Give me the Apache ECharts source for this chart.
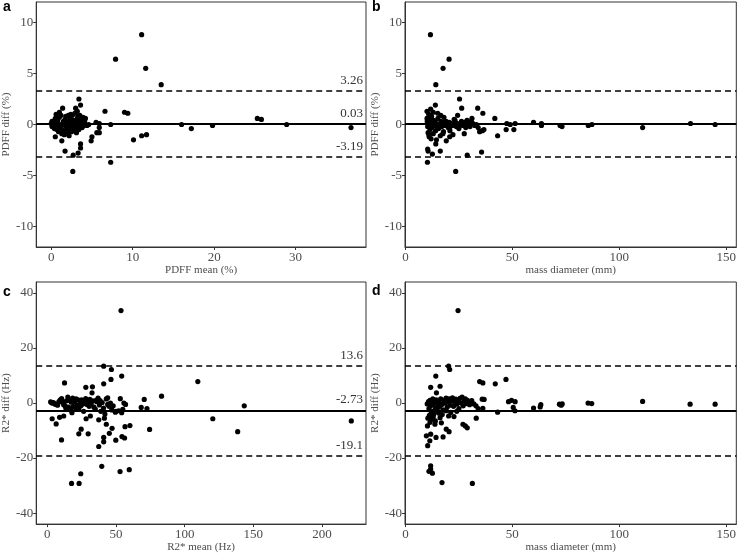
<!DOCTYPE html>
<html>
<head>
<meta charset="utf-8">
<script src="https://cdn.jsdelivr.net/npm/echarts@6/dist/echarts.min.js"></script>
<style>
html,body{margin:0;padding:0;background:#fff;}
#chart{width:739px;height:554px;}
</style>
</head>
<body>
<div id="chart"></div>
<script>
// ---------- DATA ----------
// Panel a: PDFF mean (%) vs PDFF diff (%)
var pdffMeanDiff = [
  [11.1,8.8],[7.9,6.4],[11.6,5.5],[13.5,3.9],[6.6,1.3],[9.0,1.2],[9.4,1.1],[7.3,0.0],[16.0,0.0],[17.2,-0.4],
  [19.8,-0.1],[25.3,0.6],[25.8,0.5],[28.9,0.0],[36.8,-0.3],[11.1,-1.1],[11.7,-1.0],[10.1,-1.5],[7.3,-3.7],[2.65,-4.6],
  [2.7,-3.0],[3.3,-2.8],[3.6,-2.3],[3.6,-1.9],[1.7,-2.6],[3.4,2.5],[3.6,1.9],[3.0,1.6],[1.4,1.6],[5.9,0.1],
  [5.5,0.2],[5.9,-0.3],[5.9,-0.8],[5.6,-0.8],[5.0,-1.2],[4.9,-1.6],[4.2,0.6],
  [0.0,0.1],[0.1,0.3],[0.1,-0.2],[0.2,0.2],[0.3,-0.1],[0.4,0.1],[0.4,-0.4],[0.5,0.6],[0.5,-0.3],[0.6,1.0],
  [0.6,0.2],[0.7,-0.5],[0.5,-1.2],[0.8,0.4],[0.9,-0.1],[1.0,1.2],[1.0,0.7],[1.1,0.0],[1.2,-0.3],[1.2,0.9],
  [1.3,-0.9],[1.3,-1.6],[1.5,0.3],[1.5,-0.6],[1.6,0.0],[1.7,0.5],[1.8,-0.2],[1.8,0.8],[1.9,0.1],[2.0,-0.5],
  [2.0,-0.9],[2.1,0.3],[2.2,-1.1],[2.2,0.0],[2.3,0.6],[2.4,-0.3],[2.5,0.2],[2.5,-0.7],[2.6,0.9],[2.7,-0.1],
  [2.7,0.4],[2.8,-0.5],[2.9,1.1],[2.9,0.0],[3.0,-0.3],[3.0,0.3],[3.1,-0.8],[3.2,0.6],[3.2,1.3],[3.3,-0.2],
  [3.4,0.1],[3.4,-0.5],[3.5,0.9],[3.5,0.2],[3.6,-0.1],[3.7,0.5],[3.8,-0.3],[3.9,0.7],[3.9,0.0],[4.0,-0.1],
  [4.1,0.3],[4.2,0.0],[4.4,-0.1],[4.6,0.0],[2.4,1.0],[1.6,-1.0],[0.9,-0.7],[2.1,0.9],[3.3,0.8]
];
// Panel b: mass diameter (mm) vs PDFF diff (%)
var diamPdffDiff = [
  [11.7,8.8],[20.4,6.4],[17.6,5.5],[14.2,3.9],[25.3,2.5],[14.0,1.9],[26.3,1.6],[33.8,1.6],[24.4,0.9],[36.2,1.1],
  [41.8,0.6],[31.1,0.6],[47.4,0.1],[59.9,0.2],[63.6,0.1],[63.6,-0.1],[72.3,-0.1],[73.2,-0.2],[85.5,-0.1],[87.2,0.0],
  [110.9,-0.3],[133.3,0.1],[144.8,0.0],[51.3,0.1],[50.7,-0.5],[47.1,-0.5],[49.0,0.0],[43.1,-1.1],[36.7,-0.5],[34.7,-0.7],
  [36.0,-0.6],[23.5,-4.6],[28.9,-3.0],[35.6,-2.7],[10.3,-3.7],[10.6,-2.6],[10.4,-2.4],[12.6,-2.9],[16.3,-2.6],[14.2,-1.9],
  [19.1,-1.6],[20.7,-1.2],[22.2,-1.0],[10.1,1.3],[11.8,1.5],[10.9,1.0],[15.1,1.1],[10.1,0.6],[27.5,-0.9],
  [10.2,0.3],[10.4,-0.2],[10.6,-0.8],[10.9,0.1],[11.1,-1.2],[11.3,0.5],[11.5,-0.5],[11.8,0.0],[12.0,-1.4],[12.2,0.8],
  [12.4,-0.3],[12.7,0.2],[13.0,-0.9],[13.2,0.4],[13.5,-0.1],[13.8,0.3],[14.1,-0.6],[14.4,0.1],[14.8,-0.2],[15.2,0.6],
  [15.5,-0.4],[15.9,0.0],[16.3,-1.1],[16.6,0.3],[17.0,-0.2],[17.4,0.1],[17.8,-0.7],[18.2,0.2],[18.6,-0.1],[19.0,0.3],
  [19.5,0.0],[20.0,-0.3],[20.5,0.2],[21.0,-0.2],[21.5,0.1],[22.0,-0.1],[22.6,0.0],[23.2,0.4],[23.8,-0.2],[24.4,0.1],
  [25.0,-0.4],[25.6,0.0],[26.2,0.3],[26.8,-0.1],[27.5,0.2],[28.2,-0.3],[28.8,0.4],[29.5,0.0],[30.2,-0.2],[30.8,0.3],
  [31.6,0.1],[32.4,-0.1],[33.2,0.0],[34.0,-0.3],[11.0,-1.0],[12.0,0.6],[13.0,1.2],[14.5,-1.5],[16.5,0.9],[18.0,0.7],
  [20.8,-0.6],[22.8,0.5],[17.5,-0.9],[19.8,0.1],[15.0,-0.1]
];
// Panel c: R2* mean (Hz) vs R2* diff (Hz)
var r2MeanDiff = [
  [53.7,33.6],[109.6,7.8],[83.2,2.5],[70.6,1.3],[68.4,-1.6],[72.6,-2.0],[74.5,-9.6],[143.4,-1.0],[120.5,-5.7],[138.6,-10.4],
  [221.3,-6.5],[41.1,13.4],[46.7,12.2],[54.2,9.8],[46.4,8.6],[41.1,7.0],[12.6,7.3],[28.1,5.7],[32.9,5.9],[32.6,3.7],
  [53.2,1.6],[55.8,0.0],[44.0,1.9],[60.2,-8.2],[56.6,-8.6],[47.2,-9.2],[49.9,-13.5],[54.4,-12.2],[56.3,-12.7],[45.2,-11.0],
  [43.0,-7.7],[41.1,-12.5],[41.1,-14.1],[37.5,-15.8],[29.8,-11.2],[24.7,-9.5],[23.0,-11.2],[10.4,-13.4],[3.6,-5.7],[6.5,-7.6],
  [17.7,-29.2],[23.2,-29.2],[24.4,-25.7],[39.7,-23.0],[53.0,-24.9],[59.7,-24.2],[54.2,-3.5],[49.6,-3.3],[28.3,-5.7],[31.4,-4.7],
  [37.5,-6.1],[41.6,-5.5],[9.0,-5.2],[12.0,-4.7],
  [2.5,0.4],[3.5,0.0],[4.5,0.2],[5.5,-0.3],[6.5,-0.5],[7.5,-0.8],[8.5,0.5],[9.5,1.2],[10.5,1.6],[11.0,0.3],
  [12.0,-0.6],[13.0,-1.0],[14.0,0.8],[15.0,2.2],[15.5,-1.5],[16.0,1.0],[17.0,-2.5],[17.5,0.3],[18.0,-3.5],[18.5,1.8],
  [19.0,-1.2],[20.0,0.6],[21.0,1.5],[22.0,-0.8],[23.0,-2.0],[24.0,0.2],[24.5,-1.0],[25.0,1.2],[26.0,-0.3],[27.0,0.9],
  [28.0,1.6],[29.0,-0.5],[30.0,0.4],[31.0,1.3],[32.0,-0.2],[33.0,0.8],[34.0,-1.5],[35.0,-2.2],[36.0,0.5],[37.0,1.8],
  [38.0,-0.7],[38.5,0.9],[39.0,-3.0],[40.0,0.2],[41.0,-1.8],[42.0,-4.0],[43.0,1.5],[44.0,-0.5],[45.0,-1.2],[46.0,0.0],
  [47.0,-2.5],[48.0,-1.0],[50.0,-3.0],[52.0,-2.8],[55.0,-2.3],[57.0,-0.5],[20.5,-1.8],[26.5,-3.0],[13.5,-1.8],[35.5,1.0],
  [22.5,1.2],[30.5,-1.2]
];
// Panel d: mass diameter (mm) vs R2* diff (Hz)
var diamR2Diff = [
  [24.6,33.6],[20.2,13.4],[20.7,12.2],[14.2,9.8],[16.2,6.1],[11.8,5.7],[14.5,3.7],[34.7,7.8],[36.2,7.3],[42.0,7.0],
  [47.0,8.6],[35.9,1.4],[36.8,1.3],[48.2,0.5],[49.6,1.0],[51.3,0.5],[50.4,-1.6],[51.2,-2.8],[43.1,-3.3],[36.2,-1.9],
  [59.9,-1.8],[63.3,-0.6],[63.0,-1.4],[72.0,-0.4],[72.8,-0.8],[73.3,-0.3],[85.4,0.0],[87.1,-0.2],[110.9,0.6],[133.1,-0.4],
  [144.8,-0.4],[33.1,-5.5],[26.9,-7.7],[28.0,-8.3],[28.9,-9.0],[19.1,-9.5],[20.4,-10.4],[17.6,-12.3],[14.3,-12.5],[11.4,-13.7],
  [10.4,-15.5],[9.8,-11.9],[10.3,-8.3],[11.8,-11.3],[11.8,-22.8],[11.8,-24.0],[11.0,-24.8],[12.6,-25.5],[17.1,-28.9],[31.3,-29.2],
  [22.7,-4.9],[20.2,-4.7],[13.8,-7.7],[16.2,-5.3],[15.7,-3.7],
  [10.2,-0.3],[10.5,-5.5],[10.8,0.5],[11.0,-2.0],[11.2,-4.5],[11.5,1.0],[11.8,-1.0],[12.0,-6.0],[12.2,0.2],[12.5,-3.0],
  [12.8,1.5],[13.0,-0.5],[13.3,-4.0],[13.6,0.8],[14.0,-2.0],[14.4,1.2],[14.8,-0.2],[15.2,-3.2],[15.6,0.6],[16.0,-1.2],
  [16.5,1.5],[17.0,-0.5],[17.5,-2.5],[18.0,1.0],[18.5,0.0],[19.0,1.8],[19.5,-1.5],[20.0,0.4],[20.5,1.5],[21.0,-0.8],
  [21.5,0.9],[22.0,1.9],[22.5,-1.2],[23.0,0.3],[23.5,1.4],[24.0,-0.4],[24.5,0.8],[25.0,-2.0],[25.5,1.7],[26.0,0.0],
  [26.5,2.2],[27.0,-1.0],[27.5,0.7],[28.0,1.5],[28.5,-0.2],[29.0,1.0],[29.5,0.3],[30.0,-0.6],[31.0,0.9],[32.0,-0.3],
  [33.0,-1.0],[34.0,-2.0],[12.0,-3.8],[13.0,-5.0],[14.0,-6.5],[11.5,-7.0],[15.0,-1.8],[17.2,-4.2],[19.0,-2.8],[21.2,-3.4],
  [24.0,-3.0],[16.8,-7.2]
];
// Bland-Altman lines: [mean, upper LoA, lower LoA] and their labels
var pdffLines = [0.03, 3.26, -3.19];
var pdffLineLabels = ['0.03', '3.26', '-3.19'];
var r2Lines = [-2.73, 13.6, -19.1];
var r2LineLabels = ['-2.73', '13.6', '-19.1'];
// Tick labels
var pdffMeanTicks = [0, 10, 20, 30];
var diameterTicks = [0, 50, 100, 150];
var r2MeanTicks = [0, 50, 100, 150, 200];
var pdffDiffTicks = [-10, -5, 0, 5, 10];
var r2DiffTicks = [-40, -20, 0, 20, 40];
var panelLetters = ['a', 'b', 'c', 'd'];
var xTitles = ['PDFF mean (%)', 'mass diameter (mm)', 'R2* mean (Hz)', 'mass diameter (mm)'];
var yTitles = ['PDFF diff (%)', 'PDFF diff (%)', 'R2* diff (Hz)', 'R2* diff (Hz)'];

// ---------- CHART ----------
var SERIF = '"Liberation Serif", "DejaVu Serif", serif';
var BOX = '#333333';
var TXT = '#4d4d4d';

var grids = [
  {left: 34, top: 2, width: 332, height: 245},
  {left: 405, top: 2, width: 332, height: 245},
  {left: 34, top: 282, width: 332, height: 245},
  {left: 405, top: 282, width: 332, height: 245}
];
grids.forEach(function (g) { g.show = true; g.borderColor = BOX; g.borderWidth = 1; g.backgroundColor = '#fff'; g.containLabel = false; });

var xRanges = [[-1.84, 38.64], [-0.2, 154.7], [-8, 232], [-0.2, 154.7]];
var yRanges = [[-12, 12], [-12, 12], [-44, 44], [-44, 44]];
var xTicks = [pdffMeanTicks, diameterTicks, r2MeanTicks, diameterTicks];
var yTicks = [pdffDiffTicks, pdffDiffTicks, r2DiffTicks, r2DiffTicks];
var datasets = [pdffMeanDiff, diamPdffDiff, r2MeanDiff, diamR2Diff];
var lineVals = [pdffLines, pdffLines, r2Lines, r2Lines];
var lineLabels = [pdffLineLabels, null, r2LineLabels, null];

function xAxisFor(i) {
  return {
    type: 'value', gridIndex: i, min: xRanges[i][0], max: xRanges[i][1],
    name: xTitles[i], nameLocation: 'middle', nameGap: 15,
    nameTextStyle: {fontFamily: SERIF, fontSize: 11, color: TXT},
    axisLine: {show: true, onZero: false, lineStyle: {color: BOX, width: 1}},
    axisTick: {show: true, length: 3, lineStyle: {color: BOX}, customValues: xTicks[i]},
    axisLabel: {show: true, margin: 4, fontFamily: SERIF, fontSize: 13, color: TXT, customValues: xTicks[i]},
    splitLine: {show: false}
  };
}
function yAxisFor(i) {
  return {
    type: 'value', gridIndex: i, min: yRanges[i][0], max: yRanges[i][1],
    name: yTitles[i], nameLocation: 'middle', nameGap: 22, nameRotate: 90,
    nameTextStyle: {fontFamily: SERIF, fontSize: 11, color: TXT},
    axisLine: {show: true, onZero: false, lineStyle: {color: BOX, width: 1}},
    axisTick: {show: true, length: 3, lineStyle: {color: BOX}, customValues: yTicks[i]},
    axisLabel: {show: true, margin: 3, fontFamily: SERIF, fontSize: 13, color: TXT, customValues: yTicks[i]},
    splitLine: {show: false}
  };
}
function seriesFor(i) {
  var lv = lineVals[i], ll = lineLabels[i];
  var mk = lv.map(function (v, k) {
    return {
      yAxis: v,
      lineStyle: k === 0 ? {type: 'solid', width: 2, color: '#000'} : {type: [6, 4], width: 1.5, color: '#000'},
      label: {
        show: !!ll, position: 'insideEndTop', distance: [3, 4],
        formatter: ll ? ll[k] : '', fontFamily: SERIF, fontSize: 13, color: '#333'
      }
    };
  });
  return {
    type: 'scatter', xAxisIndex: i, yAxisIndex: i, data: datasets[i],
    symbol: 'circle', symbolSize: 5.2, itemStyle: {color: '#000', opacity: 1},
    silent: true, animation: false, z: 3,
    markLine: {silent: true, symbol: 'none', animation: false, data: mk}
  };
}

var letterPos = [[3, 8], [372, 8], [3, 293], [372, 292]];
var graphics = panelLetters.map(function (t, i) {
  return {
    type: 'text', left: letterPos[i][0], top: letterPos[i][1] - 8,
    style: {text: t, font: 'bold 14px "Liberation Sans", Arial, sans-serif', fill: '#000'}
  };
});

var chart = echarts.init(document.getElementById('chart'), null, {renderer: 'canvas'});
chart.setOption({
  animation: false,
  backgroundColor: '#fff',
  grid: grids,
  xAxis: [0, 1, 2, 3].map(xAxisFor),
  yAxis: [0, 1, 2, 3].map(yAxisFor),
  series: [0, 1, 2, 3].map(seriesFor),
  graphic: graphics
});
</script>
</body>
</html>
